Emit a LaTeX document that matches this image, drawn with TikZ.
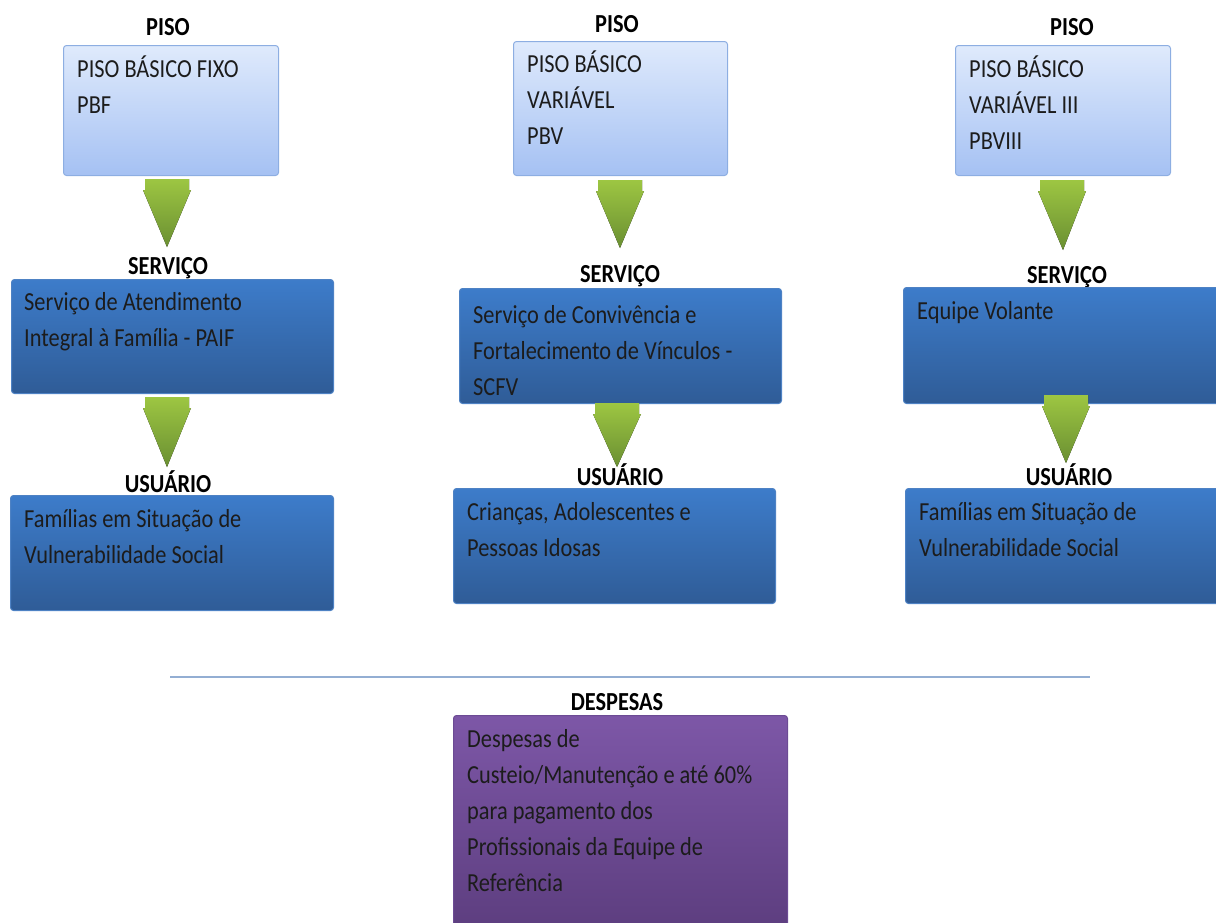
\documentclass[tikz,border=0pt]{standalone}
\usepackage{fontspec}
\setmainfont{Carlito}[FakeStretch=0.86]
\usetikzlibrary{calc}
\definecolor{ltA}{HTML}{DFEAFC}
\definecolor{ltB}{HTML}{A5C1F3}
\definecolor{ltE}{HTML}{8DAEE2}
\definecolor{dkA}{HTML}{3D7CCA}
\definecolor{dkB}{HTML}{2F5C97}
\definecolor{dkE}{HTML}{4E82C4}
\definecolor{puA}{HTML}{7D57A7}
\definecolor{puB}{HTML}{5C3D7E}
\definecolor{puE}{HTML}{6C4B94}
\definecolor{grA}{HTML}{9DC642}
\definecolor{grB}{HTML}{6A8F32}
\definecolor{txtc}{HTML}{1C1C1C}
\definecolor{sepc}{HTML}{93AED3}
\newcommand\greenarrow[2]{%
  \fill[top color=grA, bottom color=grB]
    ($(#1)+(-22,0)$) -- ($(#1)+(22,0)$) -- ($(#1)+(22,11)$) -- ($(#1)+(24,11)$)
    -- (#2) -- ($(#1)+(-24,11)$) -- ($(#1)+(-22,11)$) -- cycle;}
\begin{document}
\begin{tikzpicture}[x=1pt,y=-1pt,
  boxbase/.style={anchor=north west, inner sep=0, rounded corners=3pt, line width=1pt},
  lbox/.style={boxbase, draw=ltE, top color=ltA, bottom color=ltB},
  dbox/.style={boxbase, draw=dkE, top color=dkA, bottom color=dkB},
  pbox/.style={boxbase, draw=puE, top color=puA, bottom color=puB},
  txt/.style={anchor=base west, inner sep=0, text=txtc, font=\fontsize{26}{36}\selectfont},
  hdr/.style={anchor=base, inner sep=0, text=black, font=\fontsize{26}{30}\selectfont\bfseries}]
\clip (0,0) rectangle (1216,922);
% ---- column 1
\node[hdr] (h1) at (168,35) {PISO};
\node[lbox, minimum width=215pt, minimum height=130pt] (p1) at (63,45) {};
\node[txt] (p1t) at ($(p1.north west)+(14,32)$) {\parbox[t]{290pt}{PISO BÁSICO FIXO\\PBF}};
\node[hdr] (h2) at (168,274) {SERVIÇO};
\node[dbox, minimum width=322pt, minimum height=114pt] (s1) at (11,279) {};
\node[txt] (s1t) at ($(s1.north west)+(13,31)$) {\parbox[t]{300pt}{Serviço de Atendimento\\Integral à Família - PAIF}};
\node[hdr] (h3) at (168,492) {USUÁRIO};
\node[dbox, minimum width=323pt, minimum height=115pt] (u1) at (10,495) {};
\node[txt] (u1t) at ($(u1.north west)+(14,32)$) {\parbox[t]{300pt}{Famílias em Situação de\\Vulnerabilidade Social}};
% ---- column 2
\node[hdr] (h4) at (617,32) {PISO};
\node[lbox, minimum width=214pt, minimum height=134pt] (p2) at (513,41) {};
\node[txt] (p2t) at ($(p2.north west)+(14,31)$) {\parbox[t]{290pt}{PISO BÁSICO\\VARIÁVEL\\PBV}};
\node[hdr] (h5) at (620,282) {SERVIÇO};
\node[dbox, minimum width=322pt, minimum height=115pt] (s2) at (459,288) {};
\node[txt] (s2t) at ($(s2.north west)+(14,35)$) {\parbox[t]{300pt}{Serviço de Convivência e\\Fortalecimento de Vínculos -\\SCFV}};
\node[hdr] (h6) at (620,485) {USUÁRIO};
\node[dbox, minimum width=322pt, minimum height=115pt] (u2) at (453,488) {};
\node[txt] (u2t) at ($(u2.north west)+(14,32)$) {\parbox[t]{300pt}{Crianças, Adolescentes e\\Pessoas Idosas}};
% ---- column 3
\node[hdr] (h7) at (1072,35) {PISO};
\node[lbox, minimum width=215pt, minimum height=130pt] (p3) at (955,45) {};
\node[txt] (p3t) at ($(p3.north west)+(14,32)$) {\parbox[t]{290pt}{PISO BÁSICO\\VARIÁVEL III\\PBVIII}};
\node[hdr] (h8) at (1067,283) {SERVIÇO};
\node[dbox, minimum width=320pt, minimum height=116pt] (s3) at (903,287) {};
\node[txt] (s3t) at ($(s3.north west)+(14,32)$) {\parbox[t]{300pt}{Equipe Volante}};
\node[hdr] (h9) at (1069,485) {USUÁRIO};
\node[dbox, minimum width=318pt, minimum height=115pt] (u3) at (905,488) {};
\node[txt] (u3t) at ($(u3.north west)+(14,32)$) {\parbox[t]{300pt}{Famílias em Situação de\\Vulnerabilidade Social}};
% ---- arrows
\coordinate (a1t) at (167,179); \coordinate (a1b) at (167,247);
\coordinate (a2t) at (167,397); \coordinate (a2b) at (167,467);
\coordinate (a3t) at (620,180); \coordinate (a3b) at (620,248);
\coordinate (a4t) at (617,403); \coordinate (a4b) at (617,467);
\coordinate (a5t) at (1062,180); \coordinate (a5b) at (1063,250);
\coordinate (a6t) at (1066,395); \coordinate (a6b) at (1066,463);
\greenarrow{a1t}{a1b}
\greenarrow{a2t}{a2b}
\greenarrow{a3t}{a3b}
\greenarrow{a4t}{a4b}
\greenarrow{a5t}{a5b}
\greenarrow{a6t}{a6b}
% ---- separator
\coordinate (sepL) at (170,677); \coordinate (sepR) at (1090,677);
\draw[sepc, line width=2pt] (sepL) -- (sepR);
% ---- despesas
\node[hdr] (h10) at (617,710) {DESPESAS};
\node[pbox, minimum width=334pt, minimum height=220pt] (d) at (453,715) {};
\node[txt] (dt) at ($(d.north west)+(14,32)$) {\parbox[t]{320pt}{Despesas de\\Custeio/Manutenção e até 60\%\\para pagamento dos\\Profissionais da Equipe de\\Referência}};
\end{tikzpicture}
\end{document}
